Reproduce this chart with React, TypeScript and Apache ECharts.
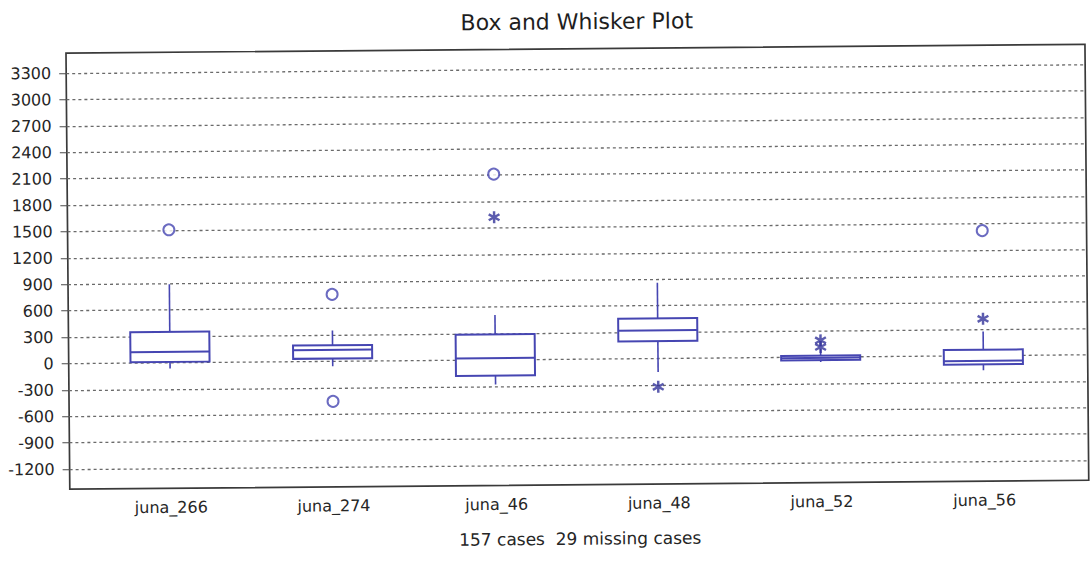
import { useEffect, useRef } from 'react';
import * as echarts from 'echarts';

// Variables and five-number summaries (whisker ends, quartiles, median)
const categories = ['juna_266', 'juna_274', 'juna_46', 'juna_48', 'juna_52', 'juna_56'];
const whiskerLow = [-67, -57, -280, -153, -57, -167];
const quartile1 = [8, 31, -180, 197, -35, -100];
const medians = [122, 130, 20, 319, -10, -60];
const quartile3 = [350, 182, 290, 456, 15, 67];
const whiskerHigh = [890, 350, 510, 860, 95, 273];

// Outliers (circles) and extreme values (asterisks): category index + value
const outlierCats = [0, 1, 1, 2, 5];
const outlierValues = [1510, 760, -456, 2110, 1420];
const extremeCats = [2, 3, 4, 4, 5];
const extremeValues = [1620, -323, 114, 189, 418];

// Value axis range and step
const yMin = -1200;
const yMax = 3300;
const yStep = 300;

const chartTitle = 'Box and Whisker Plot';
const caseNote = '157 cases  29 missing cases';

const BOX_COLOR = '#4646b2';
const STAR_COLOR = '#33339a';
const TEXT_COLOR = '#262626';
const FONT = '"DejaVu Sans", Arial, sans-serif';

// six-armed asterisk built from three overlapping bars
const ASTERISK =
  'path://M4,0L6,0L6,10L4,10Z' +
  'M8.83,1.634L9.83,3.366L1.17,8.366L0.17,6.634Z' +
  'M0.17,3.366L1.17,1.634L9.83,6.634L8.83,8.366Z';

const renderBox = (_params: any, api: any) => {
  const idx = api.value(0);
  const band = api.size([1, 0])[0];
  const half = band * 0.243;
  const pLow = api.coord([idx, api.value(1)]);
  const cx = pLow[0];
  const yLow = pLow[1];
  const yQ1 = api.coord([idx, api.value(2)])[1];
  const yMed = api.coord([idx, api.value(3)])[1];
  const yQ3 = api.coord([idx, api.value(4)])[1];
  const yHigh = api.coord([idx, api.value(5)])[1];
  return {
    type: 'group',
    children: [
      {
        type: 'line',
        shape: { x1: cx, y1: yQ3, x2: cx, y2: yHigh },
        style: { stroke: BOX_COLOR, lineWidth: 1.6 },
      },
      {
        type: 'line',
        shape: { x1: cx, y1: yQ1, x2: cx, y2: yLow },
        style: { stroke: BOX_COLOR, lineWidth: 1.6 },
      },
      {
        type: 'rect',
        shape: { x: cx - half, y: yQ3, width: half * 2, height: Math.max(yQ1 - yQ3, 1) },
        style: { fill: '#ffffff', stroke: BOX_COLOR, lineWidth: 2 },
      },
      {
        type: 'line',
        shape: { x1: cx - half, y1: yMed, x2: cx + half, y2: yMed },
        style: { stroke: BOX_COLOR, lineWidth: 2 },
      },
    ],
  };
};

export default function App() {
  const ref = useRef<HTMLDivElement>(null);

  useEffect(() => {
    if (!ref.current) return;
    const chart = echarts.init(ref.current, null, { renderer: 'svg' });

    const boxData = categories.map((_, i) => [
      i,
      whiskerLow[i],
      quartile1[i],
      medians[i],
      quartile3[i],
      whiskerHigh[i],
    ]);
    const outlierData = outlierCats.map((c, i) => [c, outlierValues[i]]);
    const extremeData = extremeCats.map((c, i) => [c, extremeValues[i]]);

    chart.setOption({
      animation: false,
      backgroundColor: '#ffffff',
      grid: [
        // plot frame
        {
          left: 68,
          right: 4,
          top: 49,
          bottom: 77,
          show: true,
          borderColor: '#3a3a3a',
          borderWidth: 1.7,
          backgroundColor: 'transparent',
        },
        // value axis with dotted grid lines across the frame
        { left: 68, right: 4, top: 69, bottom: 97 },
        // category positions for the boxes
        { left: 88, right: 27, top: 69, bottom: 97 },
      ],
      xAxis: [
        { gridIndex: 0, type: 'value', show: false },
        { gridIndex: 1, type: 'value', show: false },
        {
          gridIndex: 2,
          type: 'category',
          data: categories,
          boundaryGap: true,
          axisLine: { show: false },
          axisTick: { show: false },
          splitLine: { show: false },
          axisLabel: {
            margin: 31,
            color: TEXT_COLOR,
            fontSize: 16,
            fontFamily: FONT,
          },
        },
      ],
      yAxis: [
        { gridIndex: 0, type: 'value', show: false },
        {
          gridIndex: 1,
          type: 'value',
          min: yMin,
          max: yMax,
          interval: yStep,
          axisLine: { show: false },
          axisTick: {
            show: true,
            length: 7,
            lineStyle: { color: '#4a4a4a', width: 1 },
          },
          axisLabel: {
            margin: 15,
            color: TEXT_COLOR,
            fontSize: 16,
            fontFamily: FONT,
            formatter: (v: number) => String(v),
          },
          splitLine: {
            show: true,
            lineStyle: { color: '#6a6a6a', width: 1.3, type: [3, 3] },
          },
        },
        {
          gridIndex: 2,
          type: 'value',
          min: yMin,
          max: yMax,
          interval: yStep,
          show: false,
          splitLine: { show: false },
        },
      ],
      series: [
        {
          type: 'custom',
          name: 'boxes',
          xAxisIndex: 2,
          yAxisIndex: 2,
          renderItem: renderBox,
          encode: { x: 0, y: [1, 2, 3, 4, 5] },
          data: boxData,
          z: 3,
        },
        {
          type: 'scatter',
          name: 'outliers',
          xAxisIndex: 2,
          yAxisIndex: 2,
          symbol: 'emptyCircle',
          symbolSize: 11,
          itemStyle: { color: BOX_COLOR, borderColor: BOX_COLOR, borderWidth: 1.7 },
          data: outlierData,
          z: 4,
        },
        {
          type: 'scatter',
          name: 'extremes',
          xAxisIndex: 2,
          yAxisIndex: 2,
          symbol: ASTERISK,
          symbolSize: 12,
          itemStyle: { color: STAR_COLOR },
          data: extremeData,
          z: 4,
        },
      ],
      graphic: [
        {
          type: 'text',
          x: 579,
          y: 22,
          style: {
            text: chartTitle,
            font: `22px ${FONT}`,
            fill: '#1e1e1e',
            align: 'center',
            verticalAlign: 'middle',
          },
        },
        {
          type: 'text',
          x: 578,
          y: 539,
          style: {
            text: caseNote,
            font: `17px ${FONT}`,
            fill: TEXT_COLOR,
            align: 'center',
            verticalAlign: 'middle',
          },
        },
      ],
    });

    return () => chart.dispose();
  }, []);

  return (
    <div
      ref={ref}
      style={{
        position: 'absolute',
        left: 0,
        top: 0,
        width: 1091,
        height: 562,
        background: '#ffffff',
        transform: 'rotate(-0.5deg)',
      }}
    />
  );
}
